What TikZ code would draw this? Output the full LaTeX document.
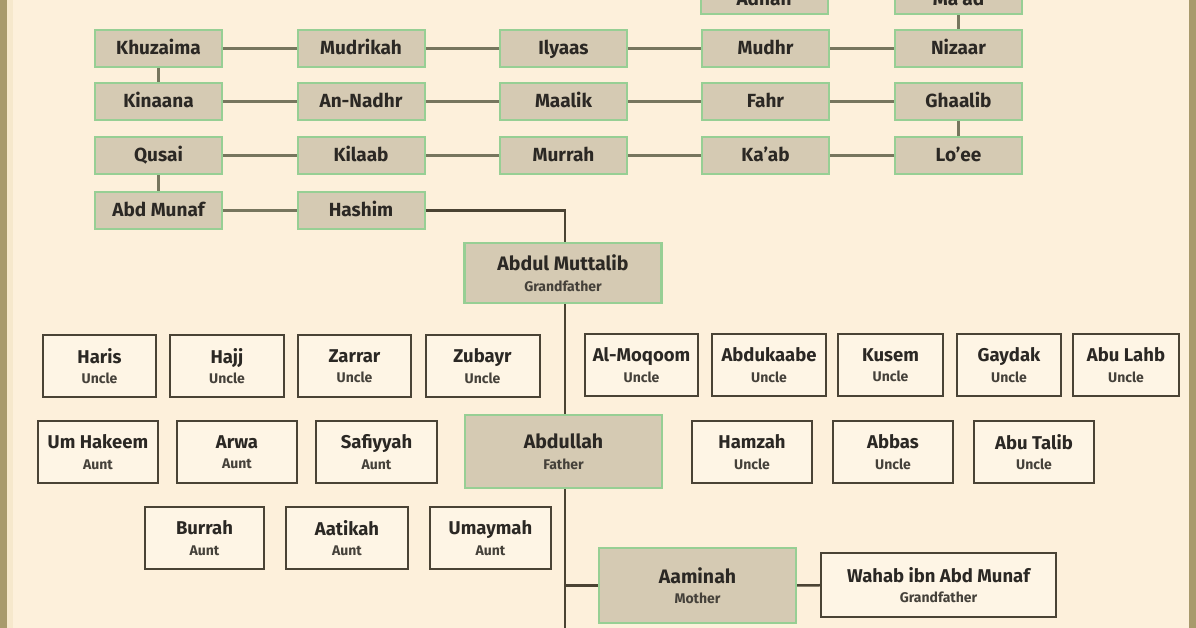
\documentclass[tikz,border=0pt]{standalone}
\usepackage{fontspec}
\setmainfont{Fira Sans}
\usetikzlibrary{calc}

\definecolor{bgcream}{HTML}{FDF0DB}
\definecolor{band}{HTML}{A89A6C}
\definecolor{bandlight}{HTML}{F6E8CC}
\definecolor{ancfill}{HTML}{D5CAB3}
\definecolor{ancborder}{HTML}{97CF94}
\definecolor{kinfill}{HTML}{FEF5E5}
\definecolor{kinborder}{HTML}{4A4335}
\definecolor{ancline}{HTML}{77765E}
\definecolor{kinline}{HTML}{4B4333}
\definecolor{txt}{HTML}{2B2824}
\definecolor{subtxt}{HTML}{45413A}

\newcommand{\who}[2]{#1\\{\fontsize{14}{14}\selectfont\color{subtxt}#2}}

\begin{document}
\begin{tikzpicture}[x=1pt,y=-1pt,
  anc node/.style={rectangle,draw=ancborder,fill=ancfill,line width=2pt,text=txt,
    minimum width=127pt,minimum height=37pt,inner sep=0pt,
    text height=15pt,text depth=3pt,
    font=\bfseries\fontsize{19}{20}\selectfont},
  main node/.style={rectangle,draw=ancborder,fill=ancfill,line width=2.2pt,text=txt,
    minimum width=197pt,inner sep=0pt,align=center,
    font=\bfseries\fontsize{19.5}{20.5}\selectfont},
  kin node/.style={rectangle,draw=kinborder,fill=kinfill,line width=2pt,text=txt,
    minimum height=62pt,inner sep=0pt,align=center,
    font=\bfseries\fontsize{18.5}{20.5}\selectfont},
  anc line/.style={draw=ancline,line width=3.5pt},
  kin line/.style={draw=kinline,line width=2.5pt}]

\useasboundingbox (0,0) rectangle (1196,628);
\fill[bgcream] (0,0) rectangle (1196,628);
\fill[bandlight] (7,0) rectangle (13,628);
\fill[band] (0,0) rectangle (7,628);
\fill[band] (1189,0) rectangle (1196,628);

% forefathers
\node[anc node,minimum height=28pt](adnan) at (764,0) {Adnan};
\node[anc node,minimum height=28pt](maad) at (958.5,0) {Ma'ad};
\node[anc node](khuzaima) at (158.5,48.5) {Khuzaima};
\node[anc node](mudrikah) at (361,48.5) {Mudrikah};
\node[anc node](ilyaas) at (563.5,48.5) {Ilyaas};
\node[anc node](mudhr) at (765.5,48.5) {Mudhr};
\node[anc node](nizaar) at (958.5,48.5) {Nizaar};
\node[anc node](kinaana) at (158.5,101.5) {Kinaana};
\node[anc node](nadhr) at (361,101.5) {An-Nadhr};
\node[anc node](maalik) at (563.5,101.5) {Maalik};
\node[anc node](fahr) at (765.5,101.5) {Fahr};
\node[anc node](ghaalib) at (958.5,101.5) {Ghaalib};
\node[anc node](qusai) at (158.5,155.5) {Qusai};
\node[anc node](kilaab) at (361,155.5) {Kilaab};
\node[anc node](murrah) at (563.5,155.5) {Murrah};
\node[anc node](kaab) at (765.5,155.5) {Ka'ab};
\node[anc node](loee) at (958.5,155.5) {Lo'ee};
\node[anc node](abdmunaf) at (158.5,210.5) {Abd Munaf};
\node[anc node](hashim) at (361,210.5) {Hashim};

% line of the prophet
\node[main node,minimum height=60pt](muttalib) at (563,273) {\who{Abdul Muttalib}{Grandfather}};
\node[main node,minimum height=73pt](abdullah) at (563.5,451.5) {\who{Abdullah}{Father}};
\node[main node,minimum height=75pt](aaminah) at (697.5,585.5) {\who{Aaminah}{Mother}};
\node[kin node,minimum width=235pt,minimum height=64pt](wahab) at (938.5,585) {\who{Wahab ibn Abd Munaf}{Grandfather}};

% uncles and aunts
\node[kin node,minimum width=113pt](haris) at (99.5,366) {\who{Haris}{Uncle}};
\node[kin node,minimum width=114pt](hajj) at (227,366) {\who{Hajj}{Uncle}};
\node[kin node,minimum width=113pt](zarrar) at (354.5,366) {\who{Zarrar}{Uncle}};
\node[kin node,minimum width=114pt](zubayr) at (482.5,366) {\who{Zubayr}{Uncle}};
\node[kin node,minimum width=113pt](moqoom) at (641.5,365) {\who{Al-Moqoom}{Uncle}};
\node[kin node,minimum width=114pt](abdukaabe) at (769,365) {\who{Abdukaabe}{Uncle}};
\node[kin node,minimum width=105pt](kusem) at (890.5,365) {\who{Kusem}{Uncle}};
\node[kin node,minimum width=104pt](gaydak) at (1009,365) {\who{Gaydak}{Uncle}};
\node[kin node,minimum width=106pt](abulahb) at (1126,365) {\who{Abu Lahb}{Uncle}};
\node[kin node,minimum width=120pt](umhakeem) at (98,452) {\who{Um Hakeem}{Aunt}};
\node[kin node,minimum width=120pt](arwa) at (237,452) {\who{Arwa}{Aunt}};
\node[kin node,minimum width=121pt](safiyyah) at (376.5,452) {\who{Safiyyah}{Aunt}};
\node[kin node,minimum width=120pt](hamzah) at (752,452) {\who{Hamzah}{Uncle}};
\node[kin node,minimum width=120pt](abbas) at (893,452) {\who{Abbas}{Uncle}};
\node[kin node,minimum width=120pt](abutalib) at (1034,452) {\who{Abu Talib}{Uncle}};
\node[kin node,minimum width=119pt](burrah) at (204.5,538) {\who{Burrah}{Aunt}};
\node[kin node,minimum width=122pt](aatikah) at (347,538) {\who{Aatikah}{Aunt}};
\node[kin node,minimum width=121pt](umaymah) at (490.5,538) {\who{Umaymah}{Aunt}};

\coordinate (trunkend) at (565,640);

\path[anc line]
(maad) edge (nizaar)
(nizaar) edge (mudhr)
(mudhr) edge (ilyaas)
(ilyaas) edge (mudrikah)
(mudrikah) edge (khuzaima)
(khuzaima) edge (kinaana)
(kinaana) edge (nadhr)
(nadhr) edge (maalik)
(maalik) edge (fahr)
(fahr) edge (ghaalib)
(ghaalib) edge (loee)
(loee) edge (kaab)
(kaab) edge (murrah)
(murrah) edge (kilaab)
(kilaab) edge (qusai)
(qusai) edge (abdmunaf)
(abdmunaf) edge (hashim);

\draw[kin line] (hashim.east) -| ($(muttalib.north)+(2,0)$);
\draw[kin line] ($(muttalib.south)+(2,0)$) -- ($(abdullah.north)+(1.5,0)$);
\draw[kin line] ($(abdullah.south)+(1.5,0)$) -- (trunkend);
\draw[kin line] (aaminah.west) -- (aaminah.west -| trunkend);
\draw[kin line] (aaminah) -- (wahab);
\end{tikzpicture}
\end{document}
